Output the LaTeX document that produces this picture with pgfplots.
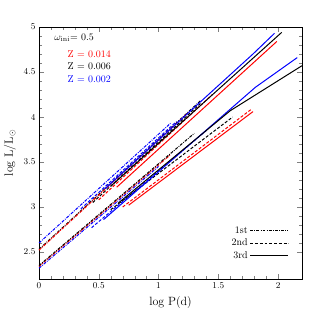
\documentclass[border=0pt]{standalone}
\usepackage{pgfplots}
\pgfplotsset{compat=1.18}
\begin{document}
\begin{tikzpicture}
\begin{axis}[
  scale only axis, width=263bp, height=252bp,
  xmin=0, xmax=2.2, ymin=2.2, ymax=5,
  xtick={0,0.5,1,1.5,2}, ytick={2.5,3,3.5,4,4.5,5},
  xticklabels={0,0.5,1,1.5,2}, yticklabels={2.5,3,3.5,4,4.5,5},
  minor x tick num=4, minor y tick num=4,
  tick align=inside, ticks=both,
  major tick length=5bp, minor tick length=3bp,
  tick label style={font=\small},
  xlabel={log P(d)}, ylabel={log L/L$_\odot$},
  label style={font=\large},
  xlabel style={yshift=-1bp},
  ylabel style={yshift=1bp},
  clip=false,
  legend style={draw=none, fill=none, font=\normalsize, at={(rel axis cs:0.962,0.06)}, anchor=south east, row sep=0pt},
  legend plot pos=right,
  legend cell align=right,
  legend image code/.code={\draw[#1] (0cm,0cm) -- (1.35cm,0cm);},
]
\addlegendimage{black, line width=0.8pt, dash pattern=on 3pt off 1.2pt on 0.8pt off 1.2pt}
\addlegendentry{1st}
\addlegendimage{black, line width=0.8pt, dash pattern=on 3pt off 1.8pt}
\addlegendentry{2nd}
\addlegendimage{black, line width=0.8pt}
\addlegendentry{3rd}

% upper band (1st crossing, dash-dot)
\addplot[blue, line width=1pt, dash pattern=on 3pt off 1.2pt on 0.8pt off 1.2pt, forget plot] coordinates {(0,2.60) (1.10,3.93)};
\addplot[black, line width=1pt, dash pattern=on 3pt off 1.2pt on 0.8pt off 1.2pt, forget plot] coordinates {(0,2.53) (1.35,4.18)};
\addplot[red, line width=1pt, dash pattern=on 3pt off 1.2pt on 0.8pt off 1.2pt, forget plot] coordinates {(0,2.52) (1.25,4.05)};
% upper band (2nd crossing, dashed)
\addplot[blue, line width=1pt, dash pattern=on 3pt off 1.8pt, forget plot] coordinates {(0.35,2.98) (1.15,3.95)};
\addplot[black, line width=1pt, dash pattern=on 3pt off 1.8pt, forget plot] coordinates {(0.45,3.05) (1.35,4.15)};
\addplot[red, line width=1pt, dash pattern=on 3pt off 1.8pt, forget plot] coordinates {(0.50,3.08) (1.45,4.25)};
% upper band (3rd crossing, solid)
\addplot[blue, line width=1pt, forget plot] coordinates {(0.55,3.20) (1.79,4.70) (1.97,4.93)};
\addplot[black, line width=1pt, forget plot] coordinates {(0.60,3.23) (2.03,4.94)};
\addplot[red, line width=1pt, forget plot] coordinates {(0.65,3.22) (1.99,4.84)};

% lower band (1st crossing, dash-dot)
\addplot[red, line width=1pt, dash pattern=on 3pt off 1.2pt on 0.8pt off 1.2pt, forget plot] coordinates {(0,2.34) (1.10,3.58)};
\addplot[black, line width=1pt, dash pattern=on 3pt off 1.2pt on 0.8pt off 1.2pt, forget plot] coordinates {(0,2.35) (1.30,3.82)};
\addplot[blue, line width=1pt, dash pattern=on 3pt off 1.2pt on 0.8pt off 1.2pt, forget plot] coordinates {(0,2.32) (1.00,3.45)};
% lower band (2nd crossing, dashed)
\addplot[blue, line width=1pt, dash pattern=on 3pt off 1.8pt, forget plot] coordinates {(0.44,2.77) (1.40,3.85)};
\addplot[black, line width=1pt, dash pattern=on 3pt off 1.8pt, forget plot] coordinates {(0.60,2.97) (1.62,4.00)};
\addplot[red, line width=1pt, dash pattern=on 3pt off 1.8pt, forget plot] coordinates {(0.70,3.00) (1.78,4.09)};
% lower band (3rd crossing, solid)
\addplot[blue, line width=1pt, forget plot] coordinates {(0.54,2.86) (1.81,4.33) (2.16,4.66)};
\addplot[black, line width=1pt, forget plot] coordinates {(0.66,3.04) (1.60,4.07) (2.20,4.57)};
\addplot[red, line width=1pt, forget plot] coordinates {(0.75,3.02) (1.79,4.06)};

\node[anchor=west, font=\normalsize] at (axis cs:0.10,4.88) {$\omega_{\rm ini}$= 0.5};
\node[anchor=west, font=\normalsize, text=red] at (axis cs:0.21,4.70) {Z = 0.014};
\node[anchor=west, font=\normalsize, text=black] at (axis cs:0.21,4.56) {Z = 0.006};
\node[anchor=west, font=\normalsize, text=blue] at (axis cs:0.21,4.42) {Z = 0.002};
\end{axis}
\useasboundingbox (-39bp,-40bp) rectangle (280bp,279bp);
\end{tikzpicture}
\end{document}
